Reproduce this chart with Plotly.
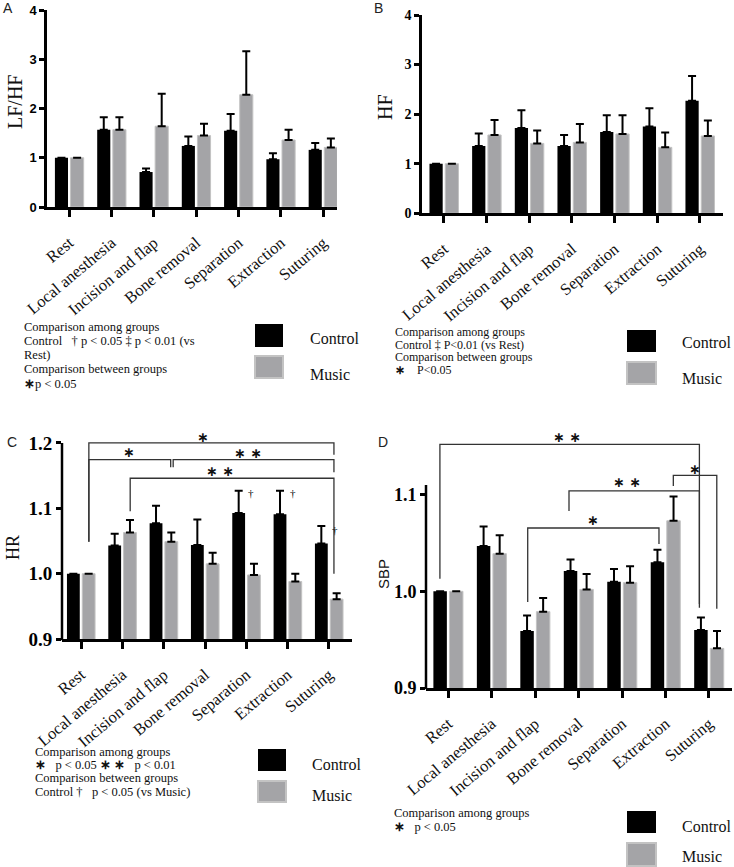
import plotly.graph_objects as go

W, H = 734, 867
SERIF = "Liberation Serif"
SANS = "Liberation Sans"
NB = "\u00a0"
STAR = "<b>\u2217</b>"

categories = ["Rest", "Local anesthesia", "Incision and flap", "Bone removal",
              "Separation", "Extraction", "Suturing"]

# Panel A: LF/HF
lfhf_control = [1.00, 1.57, 0.71, 1.24, 1.55, 0.97, 1.16]
lfhf_control_sem = [None, 0.25, 0.07, 0.19, 0.34, 0.12, 0.14]
lfhf_music = [1.00, 1.57, 1.64, 1.45, 2.28, 1.36, 1.21]
lfhf_music_sem = [None, 0.25, 0.66, 0.24, 0.88, 0.21, 0.18]

# Panel B: HF
hf_control = [1.00, 1.36, 1.72, 1.36, 1.64, 1.75, 2.27]
hf_control_sem = [None, 0.25, 0.36, 0.22, 0.34, 0.37, 0.50]
hf_music = [1.00, 1.58, 1.41, 1.43, 1.60, 1.33, 1.56]
hf_music_sem = [None, 0.30, 0.26, 0.37, 0.38, 0.30, 0.31]

# Panel C: HR
hr_control = [1.000, 1.043, 1.077, 1.044, 1.093, 1.091, 1.046]
hr_control_sem = [None, 0.018, 0.027, 0.039, 0.034, 0.036, 0.027]
hr_music = [1.000, 1.063, 1.049, 1.015, 0.998, 0.988, 0.961]
hr_music_sem = [None, 0.019, 0.014, 0.017, 0.017, 0.012, 0.009]

# Panel D: SBP
sbp_control = [1.000, 1.047, 0.959, 1.021, 1.010, 1.030, 0.960]
sbp_control_sem = [None, 0.020, 0.016, 0.012, 0.013, 0.013, 0.013]
sbp_music = [1.000, 1.039, 0.979, 1.002, 1.009, 1.073, 0.941]
sbp_music_sem = [None, 0.019, 0.014, 0.016, 0.017, 0.025, 0.018]

# significance brackets: (x_left, x_right, level, left_leg_end, right_leg_end, label, label_x, label_y)
hr_brackets = [
    (0.19, 6.12, 1.200, 1.049, 1.182, STAR, 2.95, 1.209),
    (0.19, 2.17, 1.1745, 1.049, 1.163, STAR, 1.16, 1.186),
    (2.23, 6.12, 1.1745, 1.163, 1.155, STAR + NB + STAR, 4.04, 1.185),
    (1.19, 6.12, 1.146, 1.0954, 1.000, STAR + NB + STAR, 3.36, 1.157),
]
hr_daggers = [(4.0, 1.1235), (5.02, 1.1235), (6.02, 1.067)]

sbp_brackets = [
    (-0.19, 5.78, 1.152, 1.013, 0.983, STAR + NB + STAR, 2.73, 1.160),
    (5.18, 6.18, 1.120, 1.109, 0.982, STAR, 5.68, 1.127),
    (2.78, 5.78, 1.104, 1.083, 0.987, STAR + NB + STAR, 4.11, 1.113),
    (1.83, 4.85, 1.0655, 0.989, 1.049, STAR, 3.34, 1.074),
]

OFF = 0.185
BARW = 0.31
C_COLOR = "#000000"
M_COLOR = "#a4a4a7"
M_EDGE = "#c3c3c3"

panels = [
    dict(n="", letter="A", title="LF/HF", tfam=SERIF, tsize=20, tpos=(15, 102),
         lpos=(8, 8), ctl=lfhf_control, ctl_e=lfhf_control_sem, mus=lfhf_music, mus_e=lfhf_music_sem,
         xdom=(47, 337), ydom=(207, 10), xr=(-0.527, 6.33), yr=(0, 4),
         yt=[0, 1, 2, 3, 4], ytt=["0", "1", "2", "3", "4"], yfam=SANS, ysize=13, axtop=None),
    dict(n="2", letter="B", title="HF", tfam=SERIF, tsize=20, tpos=(385, 107),
         lpos=(378, 8), ctl=hf_control, ctl_e=hf_control_sem, mus=hf_music, mus_e=hf_music_sem,
         xdom=(422, 723), ydom=(213.3, 15), xr=(-0.515, 6.54), yr=(0, 4),
         yt=[0, 1, 2, 3, 4], ytt=["0", "1", "2", "3", "4"], yfam=SERIF, ysize=14, axtop=None),
    dict(n="3", letter="C", title="HR", tfam=SERIF, tsize=18, tpos=(13, 548),
         lpos=(12, 442), ctl=hr_control, ctl_e=hr_control_sem, mus=hr_music, mus_e=hr_music_sem,
         xdom=(62, 352), ydom=(639, 420.1), xr=(-0.46, 6.557), yr=(0.9, 1.235),
         yt=[0.9, 1.0, 1.1, 1.2], ytt=["0.9", "1.0", "1.1", "1.2"], yfam=SERIF, ysize=19, axtop=1.2),
    dict(n="4", letter="D", title="SBP", tfam=SANS, tsize=15, tpos=(383, 574),
         lpos=(383, 442), ctl=sbp_control, ctl_e=sbp_control_sem, mus=sbp_music, mus_e=sbp_music_sem,
         xdom=(426, 732), ydom=(688, 427), xr=(-0.51, 6.53), yr=(0.9, 1.17),
         yt=[0.9, 1.0, 1.1], ytt=["0.9", "1.0", "1.1"], yfam=SERIF, ysize=18, axtop=1.11),
]

fig = go.Figure()
layout = dict(width=W, height=H, autosize=False,
              margin=dict(l=0, r=0, t=0, b=0, pad=0, autoexpand=False),
              paper_bgcolor="white", plot_bgcolor="white", showlegend=False,
              barmode="overlay")
shapes = []
annotations = []


def px2paper(x, y):
    return x / W, 1 - y / H


def note(x, y, text, size=12.5, family=SERIF, xanchor="left", yanchor="middle", angle=0, color="#111"):
    px, py = px2paper(x, y)
    annotations.append(dict(x=px, y=py, xref="paper", yref="paper", text=text, showarrow=False,
                            xanchor=xanchor, yanchor=yanchor, textangle=angle,
                            font=dict(family=family, size=size, color=color)))


idx = list(range(len(categories)))

for p in panels:
    n = p["n"]
    xa, ya = "x" + n, "y" + n
    xc = [i - OFF for i in idx]
    xm = [i + OFF for i in idx]
    fig.add_trace(go.Bar(x=xc, y=p["ctl"], width=BARW, marker=dict(color=C_COLOR, line=dict(width=0)),
                         error_y=dict(type="data", symmetric=False, array=p["ctl_e"],
                                      arrayminus=[0] * 7, color="black", thickness=2, width=4),
                         xaxis=xa, yaxis=ya, name="Control"))
    fig.add_trace(go.Bar(x=xm, y=p["mus"], width=BARW, marker=dict(color=M_COLOR, line=dict(width=1, color=M_EDGE)),
                         error_y=dict(type="data", symmetric=False, array=p["mus_e"],
                                      arrayminus=[0] * 7, color="black", thickness=2, width=4),
                         xaxis=xa, yaxis=ya, name="Music"))
    x0, x1 = p["xdom"][0] / W, p["xdom"][1] / W
    y0, y1 = 1 - p["ydom"][0] / H, 1 - p["ydom"][1] / H
    layout["xaxis" + n] = dict(domain=[x0, x1], range=list(p["xr"]), anchor=ya,
                               tickvals=idx, ticktext=categories, tickangle=-40,
                               tickfont=dict(family=SERIF, size=16.5, color="#111"),
                               ticklabelstandoff=10,
                               showline=True, linewidth=2.5, linecolor="black",
                               ticks="outside", ticklen=7, tickwidth=2.5, tickcolor="black",
                               showgrid=False, zeroline=False, automargin=False)
    layout["yaxis" + n] = dict(domain=[y0, y1], range=list(p["yr"]), anchor=xa,
                               tickvals=p["yt"], ticktext=p["ytt"],
                               tickfont=dict(family=p["yfam"], size=p["ysize"], color="black", weight="bold"),
                               showline=p["axtop"] is None, linewidth=2.5, linecolor="black",
                               ticks="outside", ticklen=5, tickwidth=2.5, tickcolor="black",
                               showgrid=False, zeroline=False, automargin=False)
    if p["axtop"] is not None:
        r0, r1 = p["yr"]
        top = y0 + (p["axtop"] - r0) / (r1 - r0) * (y1 - y0)
        shapes.append(dict(type="line", xref="paper", yref="paper", x0=x0, x1=x0, y0=y0 - 1.2 / H, y1=top,
                           line=dict(color="black", width=2.5)))
    note(p["tpos"][0], p["tpos"][1], p["title"], size=p["tsize"], family=p["tfam"],
         xanchor="center", angle=-90, color="#111")
    note(p["lpos"][0], p["lpos"][1], p["letter"], size=14, family=SANS, xanchor="center", color="#222")


def add_brackets(brs, n):
    for (xl, xr, lv, lb, rb, lab, lx, ly) in brs:
        shapes.append(dict(type="path", xref="x" + n, yref="y" + n,
                           path=f"M {xl},{lb} L {xl},{lv} L {xr},{lv} L {xr},{rb}",
                           line=dict(color="#333", width=1.3)))
        annotations.append(dict(x=lx, y=ly, xref="x" + n, yref="y" + n, text=lab, showarrow=False,
                                font=dict(family="DejaVu Sans", size=14, color="#111")))


add_brackets(hr_brackets, "3")
add_brackets(sbp_brackets, "4")
for (dx, dy) in hr_daggers:
    annotations.append(dict(x=dx, y=dy, xref="x3", yref="y3", text="\u2020", showarrow=False,
                            xanchor="left", font=dict(family=SERIF, size=11, color="#000")))

# notes under panels
S = NB
note(22, 327, "Comparison among groups")
note(22, 341, f"Control{S}{S}{S}\u2020 p &lt; 0.05 \u2021 p &lt; 0.01 (vs")
note(22, 355, "Rest)")
note(22, 369, "Comparison between groups")
note(22, 384, f"{STAR}p &lt; 0.05")

note(393, 332, "Comparison among groups", size=12)
note(393, 344.5, "Control \u2021 P&lt;0.01 (vs Rest)", size=12)
note(393, 357, "Comparison between groups", size=12)
note(393, 369.5, f"{STAR}{S}{S}{S}{S}P&lt;0.05", size=12)

note(33, 752, "Comparison among groups")
note(33, 765, f"{STAR}{S}{S}{S}p &lt; 0.05 {STAR}{S}{STAR}{S}{S}{S}p &lt; 0.01")
note(33, 778, "Comparison between groups")
note(33, 792, f"Control \u2020{S}{S}{S}p &lt; 0.05 (vs Music)")

note(392, 813, "Comparison among groups")
note(392, 827, f"{STAR}{S}{S}{S}p &lt; 0.05")

# legend boxes
legends = [
    ((255, 283), (324, 347), (356, 378), (308, 338), (308, 374)),
    ((627, 656), (330, 352), (362, 384), (680, 342), (680, 378)),
    ((258, 286), (749, 771), (781, 802), (310, 764), (310, 795)),
    ((627, 656), (811, 833), (843, 866), (680, 826), (680, 856)),
]
for (lx, cy, my, ct, mt) in legends:
    shapes.append(dict(type="rect", xref="paper", yref="paper", x0=lx[0] / W, x1=lx[1] / W,
                       y0=1 - cy[1] / H, y1=1 - cy[0] / H, fillcolor="black", line=dict(width=0)))
    shapes.append(dict(type="rect", xref="paper", yref="paper", x0=lx[0] / W, x1=lx[1] / W,
                       y0=1 - my[1] / H, y1=1 - my[0] / H, fillcolor=M_COLOR,
                       line=dict(width=2, color=M_EDGE)))
    note(ct[0], ct[1], "Control", size=16)
    note(mt[0], mt[1], "Music", size=16)

layout["shapes"] = shapes
layout["annotations"] = annotations
fig.update_layout(**layout)
fig.write_html("out.html")
